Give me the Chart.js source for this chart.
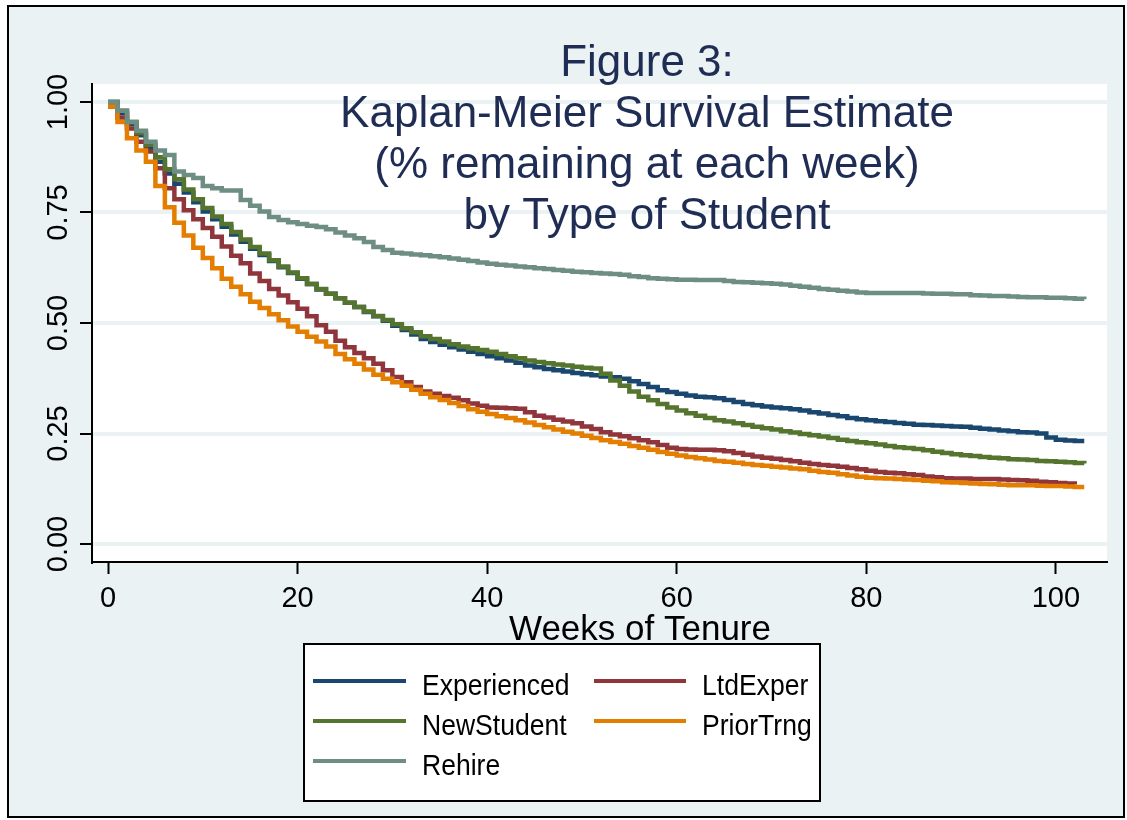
<!DOCTYPE html>
<html>
<head>
<meta charset="utf-8">
<script src="https://cdn.jsdelivr.net/npm/chart.js@4.4.1/dist/chart.umd.min.js"></script>
<style>
html,body{margin:0;padding:0;background:#fff;}
canvas{display:block;}
</style>
</head>
<body>
<canvas id="c" width="1127" height="820"></canvas>
<script>
// ---- Data ----
const weeks = [0,1,2,3,4,5,6,7,8,9,10,11,12,13,14,15,16,17,18,19,20,21,22,23,24,25,26,27,28,29,30,31,32,33,34,35,36,37,38,39,40,41,42,43,44,45,46,47,48,49,50,51,52,53,54,55,56,57,58,59,60,61,62,63,64,65,66,67,68,69,70,71,72,73,74,75,76,77,78,79,80,81,82,83,84,85,86,87,88,89,90,91,92,93,94,95,96,97,98,99,100,101,102,103];

const experienced = [1.00,0.975,0.95,0.925,0.895,0.865,0.838,0.815,0.795,0.773,0.752,0.735,0.718,0.700,0.684,0.668,0.654,0.640,0.626,0.613,0.600,0.588,0.576,0.566,0.556,0.546,0.536,0.525,0.515,0.505,0.494,0.484,0.474,0.464,0.457,0.451,0.445,0.440,0.435,0.430,0.425,0.420,0.415,0.410,0.404,0.400,0.396,0.393,0.390,0.387,0.384,0.382,0.379,0.377,0.374,0.368,0.362,0.355,0.348,0.344,0.340,0.336,0.333,0.332,0.330,0.326,0.321,0.317,0.314,0.311,0.309,0.307,0.305,0.302,0.298,0.295,0.292,0.289,0.285,0.282,0.280,0.278,0.276,0.274,0.272,0.270,0.269,0.268,0.267,0.266,0.265,0.263,0.261,0.259,0.257,0.255,0.253,0.252,0.250,0.241,0.236,0.234,0.233,0.233];

const newStudent = [1.00,0.98,0.955,0.93,0.903,0.875,0.848,0.825,0.802,0.78,0.76,0.741,0.724,0.706,0.689,0.672,0.657,0.642,0.628,0.614,0.601,0.588,0.577,0.566,0.556,0.546,0.536,0.526,0.516,0.507,0.497,0.488,0.479,0.470,0.464,0.458,0.452,0.447,0.443,0.439,0.435,0.430,0.425,0.420,0.415,0.412,0.409,0.406,0.404,0.401,0.399,0.397,0.385,0.370,0.358,0.345,0.333,0.325,0.317,0.309,0.302,0.296,0.290,0.285,0.280,0.277,0.273,0.269,0.265,0.262,0.259,0.255,0.252,0.249,0.246,0.243,0.240,0.236,0.233,0.230,0.228,0.225,0.222,0.219,0.217,0.215,0.212,0.209,0.206,0.203,0.201,0.199,0.197,0.195,0.194,0.192,0.191,0.190,0.188,0.187,0.186,0.185,0.183,0.182];

const rehire = [1.00,0.98,0.955,0.935,0.91,0.89,0.88,0.843,0.835,0.828,0.81,0.805,0.80,0.80,0.778,0.765,0.752,0.74,0.733,0.728,0.724,0.72,0.717,0.712,0.705,0.698,0.692,0.683,0.672,0.665,0.659,0.657,0.655,0.653,0.651,0.649,0.646,0.643,0.640,0.637,0.634,0.632,0.630,0.628,0.626,0.624,0.622,0.62,0.618,0.616,0.615,0.613,0.612,0.611,0.609,0.606,0.604,0.601,0.600,0.599,0.598,0.598,0.597,0.597,0.597,0.595,0.593,0.592,0.591,0.590,0.589,0.587,0.584,0.582,0.580,0.577,0.575,0.573,0.571,0.569,0.568,0.568,0.568,0.568,0.568,0.568,0.567,0.566,0.566,0.565,0.565,0.563,0.562,0.561,0.561,0.560,0.559,0.558,0.558,0.557,0.557,0.556,0.555,0.554];

const ltdExper = [0.99,0.965,0.94,0.91,0.888,0.85,0.805,0.78,0.755,0.735,0.715,0.695,0.673,0.652,0.635,0.612,0.595,0.577,0.562,0.547,0.532,0.515,0.495,0.48,0.46,0.445,0.432,0.42,0.408,0.393,0.378,0.366,0.355,0.345,0.34,0.335,0.331,0.325,0.318,0.313,0.309,0.308,0.307,0.306,0.298,0.290,0.286,0.281,0.277,0.273,0.266,0.260,0.253,0.248,0.244,0.239,0.235,0.230,0.224,0.218,0.215,0.214,0.213,0.213,0.212,0.210,0.206,0.202,0.198,0.195,0.193,0.190,0.187,0.184,0.181,0.179,0.177,0.175,0.172,0.169,0.166,0.163,0.161,0.160,0.158,0.156,0.153,0.151,0.149,0.148,0.148,0.147,0.147,0.147,0.146,0.145,0.144,0.143,0.141,0.140,0.138,0.137,0.135,null];

const priorTrng = [0.99,0.955,0.918,0.89,0.865,0.81,0.762,0.727,0.698,0.67,0.647,0.624,0.6,0.582,0.565,0.548,0.534,0.52,0.506,0.492,0.48,0.469,0.458,0.447,0.43,0.418,0.408,0.395,0.383,0.374,0.366,0.358,0.349,0.340,0.332,0.326,0.319,0.312,0.305,0.299,0.294,0.289,0.285,0.280,0.275,0.269,0.264,0.259,0.254,0.250,0.245,0.240,0.235,0.231,0.227,0.222,0.218,0.213,0.208,0.204,0.200,0.197,0.194,0.191,0.188,0.186,0.184,0.181,0.179,0.177,0.175,0.173,0.171,0.169,0.166,0.163,0.161,0.158,0.155,0.152,0.150,0.149,0.148,0.147,0.146,0.145,0.143,0.142,0.140,0.139,0.138,0.137,0.136,0.135,0.134,0.133,0.133,0.133,0.132,0.131,0.131,0.130,0.129,0.129];

const xTicks = [0,20,40,60,80,100];
const yTicks = [0,0.25,0.5,0.75,1];
const titleLines = ['Figure 3:','Kaplan-Meier Survival Estimate','(% remaining at each week)','by Type of Student'];
const xTitle = 'Weeks of Tenure';

// ---- Styles ----
const FONT = "'Liberation Sans', Arial, Helvetica, sans-serif";
const BG = '#EAF2F3';
const series = [
  {label:'Experienced', data:experienced, color:'rgb(26,71,111)', order:5},
  {label:'LtdExper',    data:ltdExper,    color:'rgb(144,53,59)', order:4},
  {label:'NewStudent',  data:newStudent,  color:'rgb(85,117,47)', order:3},
  {label:'PriorTrng',   data:priorTrng,   color:'rgb(227,126,0)', order:2},
  {label:'Rehire',      data:rehire,      color:'rgb(110,142,132)', order:1}
];

const datasets = series.map(s => ({
  label: s.label,
  data: weeks.map((w,i) => ({x:w, y:s.data[i]})),
  borderColor: s.color,
  backgroundColor: s.color,
  borderWidth: 4.5,
  pointRadius: 0,
  pointHoverRadius: 0,
  stepped: 'before',
  tension: 0,
  fill: false,
  spanGaps: false,
  order: s.order
}));

const decor = {
  id: 'decor',
  beforeDraw(chart) {
    const ctx = chart.ctx, a = chart.chartArea;
    ctx.save();
    ctx.fillStyle = '#fff';
    ctx.fillRect(0,0,chart.width,chart.height);
    ctx.fillStyle = BG;
    ctx.fillRect(8,6,1116,811);
    ctx.strokeStyle = '#000';
    ctx.lineWidth = 2;
    ctx.strokeRect(8,6,1116,811);
    ctx.fillStyle = '#fff';
    ctx.fillRect(a.left, a.top, a.right - a.left, a.bottom - a.top);
    ctx.restore();
  },
  afterDraw(chart) {
    const ctx = chart.ctx;
    ctx.save();
    // Title
    ctx.fillStyle = '#1F2D55';
    ctx.font = '44px ' + FONT;
    ctx.textAlign = 'center';
    ctx.textBaseline = 'alphabetic';
    titleLines.forEach((t,i) => ctx.fillText(t, 647, 76 + i*51));
    // Axis title
    ctx.fillStyle = '#000';
    ctx.font = '35px ' + FONT;
    ctx.fillText(xTitle, 640, 640);
    // Legend box
    ctx.fillStyle = '#fff';
    ctx.fillRect(304,644,516,157);
    ctx.strokeStyle = '#000';
    ctx.lineWidth = 2;
    ctx.strokeRect(304,644,516,157);
    const pos = {
      'Experienced':[313,406,422,681],
      'LtdExper':[594,686,702,681],
      'NewStudent':[313,406,422,721],
      'PriorTrng':[594,686,702,721],
      'Rehire':[313,406,422,761]
    };
    ctx.textAlign = 'left';
    chart.data.datasets.forEach(ds => {
      const p = pos[ds.label];
      ctx.strokeStyle = ds.borderColor;
      ctx.lineWidth = 4;
      ctx.beginPath();
      ctx.moveTo(p[0], p[3]);
      ctx.lineTo(p[1], p[3]);
      ctx.stroke();
      ctx.save();
      ctx.translate(p[2], p[3] + 13.5);
      ctx.scale(0.9, 1);
      ctx.font = '29.5px ' + FONT;
      ctx.fillStyle = '#000';
      ctx.fillText(ds.label, 0, 0);
      ctx.restore();
    });
    ctx.restore();
  }
};

new Chart(document.getElementById('c'), {
  type: 'line',
  data: { datasets },
  options: {
    responsive: false,
    animation: false,
    devicePixelRatio: 1,
    layout: { padding: { left: 0, top: 84, right: 20, bottom: 0 } },
    plugins: { legend: { display: false }, title: { display: false }, tooltip: { enabled: false } },
    scales: {
      x: {
        type: 'linear',
        min: -1.69,
        max: 105.4,
        afterFit(s) { s.height = 258; },
        afterBuildTicks(s) { s.ticks = xTicks.map(v => ({value: v})); },
        ticks: { font: { size: 29, family: FONT }, color: '#000', padding: 8, maxRotation: 0, autoSkip: false, callback: v => String(v) },
        grid: { drawOnChartArea: false, drawTicks: true, tickLength: 12, tickColor: '#000', tickWidth: 2 },
        border: { display: true, color: '#000', width: 2 }
      },
      y: {
        type: 'linear',
        min: -0.0407,
        max: 1.0407,
        afterFit(s) { s.width = 92; },
        afterBuildTicks(s) { s.ticks = yTicks.map(v => ({value: v})); },
        ticks: { font: { size: 29, family: FONT }, color: '#000', padding: -7, minRotation: 90, maxRotation: 90, crossAlign: 'center', autoSkip: false, callback: v => Number(v).toFixed(2) },
        grid: { color: BG, lineWidth: 4, drawTicks: true, tickLength: 12, tickColor: '#000', tickWidth: 2 },
        border: { display: true, color: '#000', width: 2 }
      }
    }
  },
  plugins: [decor]
});
</script>
</body>
</html>
